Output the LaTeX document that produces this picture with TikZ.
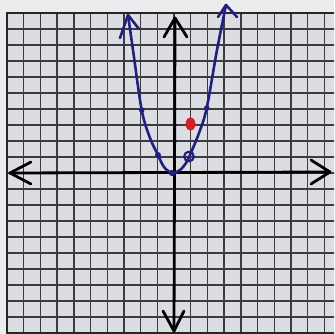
\documentclass[tikz,border=0pt]{standalone}
\usetikzlibrary{arrows.meta}
\definecolor{paper}{HTML}{DCDDE2}
\definecolor{paperTop}{HTML}{ECECEF}
\definecolor{gridline}{HTML}{3C3C40}
\definecolor{pen}{HTML}{22207F}
\definecolor{redpen}{HTML}{D0202A}
\tikzset{
  gridln/.style={draw=gridline, line width=1.4pt},
  border/.style={draw=black!85, line width=2.4pt},
  axisln/.style={draw=black, line width=2.8pt, line cap=round, line join=round},
  curveln/.style={draw=pen, line width=2.6pt, line cap=round, line join=round},
}
\begin{document}
\begin{tikzpicture}[x=1pt,y=-1pt]
\useasboundingbox (0,0) rectangle (334,334);
\clip (0,0) rectangle (334,334);
\fill[paperTop] (0,0) rectangle (334,334);
\fill[paper] (7,13) rectangle (341,334);
% grid
\foreach \k in {-9,...,9} {
  \draw[gridln] ({174+16.7*\k},13) -- ({174+16.7*\k},334);
}
\foreach \k in {-9,...,9} {
  \draw[gridln] (7,{173+16*\k}) -- (341,{173+16*\k});
}
\draw[border] (341,13) -- (7,13) -- (7,334);
\draw[border] (7,333) -- (341,333);
% axes
\coordinate (top) at (175,18);
\coordinate (bot) at (174,331);
\coordinate (lft) at (10,173);
\coordinate (rgt) at (330,172);
\draw[axisln] (top) -- (bot);
\draw[axisln] (lft) -- (rgt);
\draw[axisln] (164,37) -- (top) -- (187,37);
\draw[axisln] (163,311) -- (bot) -- (184,311);
\draw[axisln] (31,162) -- (lft) -- (31,184);
\draw[axisln] (311,160) -- (rgt) -- (311,184);
% parabola
\coordinate (ltip) at (128,15);
\coordinate (rtip) at (226,5);
\draw[curveln] plot[smooth, tension=0.55] coordinates {
  (128,15) (133,50) (141.7,110) (150,138) (158,155) (164,167) (172,173) (180,170) (186,163) (190,155) (199,133) (206.7,108) (217,50) (226,5)};
\draw[curveln] (120,38) -- (ltip) -- (139,29);
\draw[curveln] (218,17) -- (rtip) -- (237,17);
% points
\fill[pen] (141.7,110) circle (2.8pt);
\fill[pen] (206.7,108) circle (2.8pt);
\fill[pen] (158,155) circle (3pt);
\fill[pen] (172,173) circle (3.2pt);
\draw[pen, line width=2.2pt] (189,156.5) circle (4.8pt);
\fill[redpen] (190.5,124) ellipse (5pt and 6.5pt);
\end{tikzpicture}
\end{document}
